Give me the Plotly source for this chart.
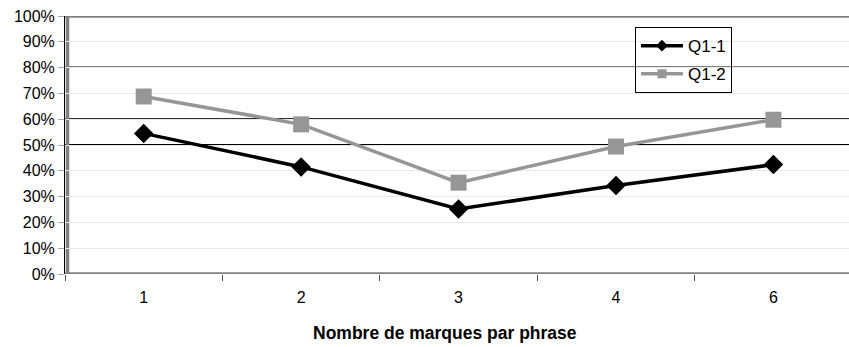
import plotly.graph_objects as go

# Categories: number of marks per sentence
categories = ["1", "2", "3", "4", "6"]
q1_1 = [0.545, 0.415, 0.252, 0.343, 0.424]
q1_2 = [0.688, 0.580, 0.354, 0.494, 0.598]

y_ticks = [i / 10 for i in range(11)]
y_tick_labels = [f"{int(v * 100)}%" for v in y_ticks]

FONT = "Liberation Sans, Arial, sans-serif"
GRAY = "#969696"
BORDER = "#808080"

fig = go.Figure()

fig.add_trace(go.Scatter(
    x=categories, y=q1_1, mode="lines+markers", name="Q1-1",
    line=dict(color="#000000", width=3.5),
    marker=dict(symbol="diamond", size=15, color="#000000"),
    showlegend=False,
))
fig.add_trace(go.Scatter(
    x=categories, y=q1_2, mode="lines+markers", name="Q1-2",
    line=dict(color=GRAY, width=3.5),
    marker=dict(symbol="square", size=16, color=GRAY),
    showlegend=False,
))

# legend entries with smaller symbols
fig.add_trace(go.Scatter(
    x=[None], y=[None], mode="lines+markers", name="Q1-1", legendgroup="a",
    line=dict(color="#000000", width=3.5),
    marker=dict(symbol="diamond", size=9, color="#000000"),
))
fig.add_trace(go.Scatter(
    x=[None], y=[None], mode="lines+markers", name="Q1-2", legendgroup="b",
    line=dict(color=GRAY, width=3.5),
    marker=dict(symbol="square", size=9, color=GRAY),
))

shapes = []
# dark horizontal reference lines (pixel offsets keep the lines crisp)
for yv, col, w, off in [(0.5, "#000000", 1, 0.5), (0.6, "#000000", 1, 0.5), (0.8, BORDER, 2, 0.6)]:
    shapes.append(dict(type="line", xref="paper", yref="y", x0=0, x1=1,
                       ysizemode="pixel", yanchor=yv, y0=off, y1=off,
                       line=dict(color=col, width=w), layer="between"))
# plot-area frame: top, bottom, left
for yv in (0.0, 1.0):
    shapes.append(dict(type="line", xref="paper", yref="y", x0=0, x1=1, y0=yv, y1=yv,
                       line=dict(color=BORDER, width=3.5), layer="between"))
shapes.append(dict(type="line", xref="paper", yref="paper", xsizemode="pixel", xanchor=0,
                   x0=2.5, x1=2.5, y0=0, y1=1,
                   line=dict(color=BORDER, width=3.5), layer="between"))

fig.update_layout(
    width=849, height=347,
    margin=dict(l=65, r=0, t=16, b=73),
    paper_bgcolor="white", plot_bgcolor="white",
    font=dict(family=FONT, size=16, color="#000000"),
    shapes=shapes,
    annotations=[dict(
        text="<b>Nombre de marques par phrase</b>", xref="paper", yref="paper",
        x=0.485, y=0, xanchor="center", yanchor="middle", yshift=-59, showarrow=False,
        font=dict(size=17.5, family=FONT, color="#000000"),
    )],
    legend=dict(
        x=0.727, y=0.957, xanchor="left", yanchor="top",
        bgcolor="rgba(0,0,0,0)", bordercolor="#000000", borderwidth=1,
        font=dict(size=17, family=FONT, color="#000000"),
        tracegroupgap=3, traceorder="grouped", itemwidth=42,
    ),
    xaxis=dict(
        type="category", categoryorder="array", categoryarray=categories,
        range=[-0.5, 4.48],
        showgrid=False, zeroline=False, showline=False,
        ticks="outside", tickson="boundaries", ticklen=6, tickcolor="#555555",
        ticklabelstandoff=12,
        tickfont=dict(size=16, family=FONT),
    ),
    yaxis=dict(
        range=[0, 1], tickvals=y_ticks, ticktext=y_tick_labels,
        showgrid=True, gridcolor="#e8e8e8", gridwidth=1,
        zeroline=False, showline=True, linecolor="#000000", linewidth=1,
        ticks="outside", ticklen=6, tickcolor="#aaaaaa",
        tickfont=dict(size=16, family=FONT),
    ),
)

fig.write_html("out.html")
